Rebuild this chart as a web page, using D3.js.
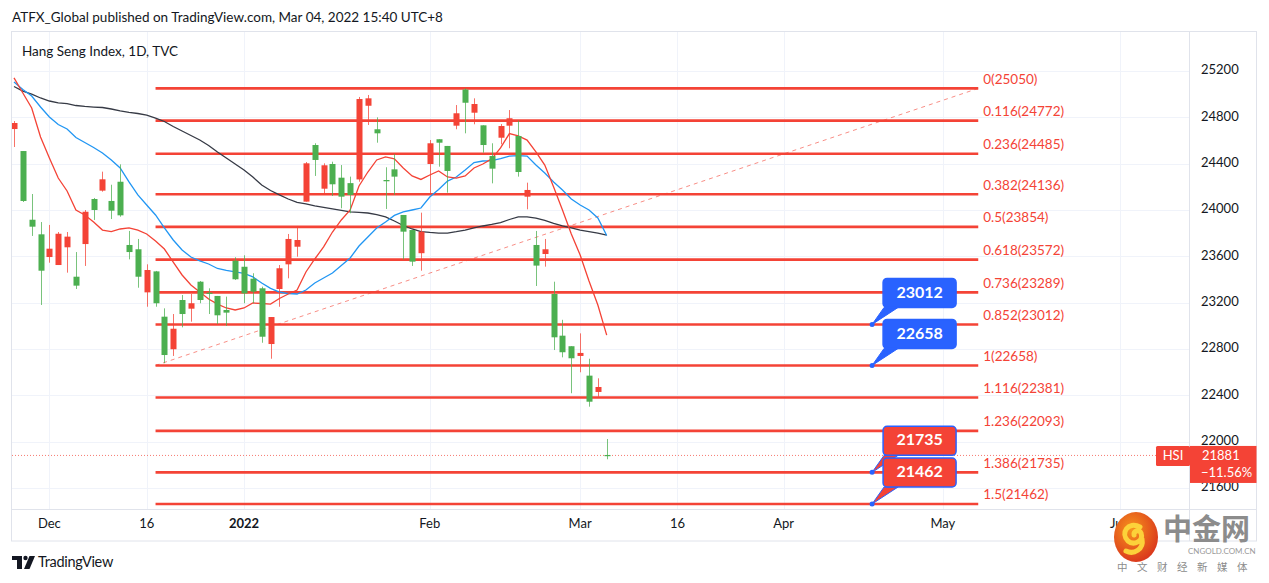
<!DOCTYPE html>
<html><head><meta charset="utf-8">
<script src="https://cdn.jsdelivr.net/npm/d3@7"></script>
<style>
html,body{margin:0;padding:0;background:#fff;}
svg{display:block;font-family:Lato,"Open Sans",sans-serif;}
</style></head>
<body><svg id="c" width="1269" height="583"></svg>
<script>
// ---- data ----
const dates = ["2021-11-25","2021-11-26","2021-11-29","2021-11-30","2021-12-01","2021-12-02","2021-12-03","2021-12-06","2021-12-07","2021-12-08","2021-12-09","2021-12-10","2021-12-13","2021-12-14","2021-12-15","2021-12-16","2021-12-17","2021-12-20","2021-12-21","2021-12-22","2021-12-23","2021-12-24","2021-12-28","2021-12-29","2021-12-30","2021-12-31","2022-01-03","2022-01-04","2022-01-05","2022-01-06","2022-01-07","2022-01-10","2022-01-11","2022-01-12","2022-01-13","2022-01-14","2022-01-17","2022-01-18","2022-01-19","2022-01-20","2022-01-21","2022-01-24","2022-01-25","2022-01-26","2022-01-27","2022-01-28","2022-01-31","2022-02-04","2022-02-07","2022-02-08","2022-02-09","2022-02-10","2022-02-11","2022-02-14","2022-02-15","2022-02-16","2022-02-17","2022-02-18","2022-02-21","2022-02-22","2022-02-23","2022-02-24","2022-02-25","2022-02-28","2022-03-01","2022-03-02","2022-03-03","2022-03-04"];
const opens  = [24699,24509,23916,23790,23594,23525,23678,23424,23706,24095,24167,24078,24244,23698,23661,23289,23470,23079,22798,23223,23148,23381,23286,23258,23137,23562,23510,23407,23324,22843,23318,23531,23683,24072,24561,24184,24397,24279,24232,24264,24900,24697,24259,24351,23957,23827,23627,24397,24611,24553,24728,25040,24840,24731,24466,24624,24728,24639,24115,23698,23620,23275,22915,22824,22740,22570,22429,21885];
const highs  = [24768,24509,24138,23896,23871,23810,23810,23637,24000,24104,24331,24218,24394,23819,23750,23531,23474,23151,23102,23266,23275,23387,23324,23258,23252,23592,23609,23454,23338,23076,23525,23793,23862,24414,24576,24403,24417,24388,24288,24976,24993,24800,24369,24483,23957,23827,23977,24604,24611,24553,24906,25050,24964,24731,24576,24742,24863,24771,24236,23819,23750,23381,23052,22824,22935,22716,22547,22023];
const lows   = [24544,24069,23776,23180,23545,23525,23459,23318,23517,23914,24158,23922,23942,23574,23329,23165,23165,22677,22740,22987,23036,23195,23102,23016,22999,23396,23195,23195,22854,22716,23165,23410,23597,24072,24294,24144,24121,24015,23972,24244,24734,24581,24009,24130,23574,23517,23476,24144,24374,24150,24697,24662,24740,24495,24230,24567,24533,24288,24006,23344,23511,22791,22728,22418,22599,22302,22388,21848];
const closes = [24751,24078,23856,23476,23666,23795,23770,23347,23985,24000,24265,23994,23954,23637,23424,23482,23195,22748,22975,23102,23195,23223,23277,23091,23114,23402,23280,23295,22906,23076,23497,23750,23741,24403,24432,24386,24222,24115,24130,24958,24964,24662,24248,24288,23813,23554,23813,24576,24581,24337,24835,24926,24915,24561,24357,24725,24792,24328,24173,23520,23661,22901,22772,22720,22766,22345,22472,21881];

const ma10 = [25140,25010,24881,24630,24449,24276,24164,24000,23957,23896,23827,23814,23836,23845,23827,23793,23732,23663,23551,23439,23353,23292,23232,23188,23154,23137,23154,23197,23193,23188,23236,23275,23309,23465,23577,23681,23810,23914,24000,24207,24328,24432,24458,24441,24363,24294,24264,24302,24337,24285,24276,24294,24363,24397,24441,24536,24660,24639,24604,24501,24388,24199,24000,23793,23611,23387,23180,22920];
const ma20 = [25105,25040,24984,24889,24803,24738,24699,24626,24583,24540,24492,24432,24363,24242,24130,24043,23957,23845,23741,23655,23594,23560,23534,23495,23478,23465,23452,23422,23370,23323,23292,23279,23275,23309,23370,23413,23456,23521,23586,23689,23767,23845,23896,23953,23983,24000,24017,24112,24177,24250,24285,24345,24410,24423,24427,24444,24466,24470,24466,24388,24319,24242,24173,24095,24043,24000,23931,23780];
const ma60 = [25066,25027,25001,24967,24941,24924,24919,24902,24894,24889,24885,24872,24855,24843,24833,24820,24794,24764,24721,24682,24643,24604,24557,24501,24449,24397,24345,24285,24216,24168,24130,24095,24065,24052,24035,24022,24009,23996,23983,23979,23974,23961,23940,23905,23866,23836,23814,23806,23801,23801,23813,23827,23845,23862,23875,23892,23918,23940,23940,23929,23910,23884,23862,23845,23827,23814,23801,23784];

const fibLevels = ["0","0.116","0.236","0.382","0.5","0.618","0.736","0.852","1","1.116","1.236","1.386","1.5"];
const fibValues = [25050,24772,24485,24136,23854,23572,23289,23012,22658,22381,22093,21735,21462];
const fibStartBar = 16, fibEndBar = 109;

const callouts = [
  {value:23012, label:"23012", kind:"blue"},
  {value:22658, label:"22658", kind:"blue"},
  {value:21735, label:"21735", kind:"red"},
  {value:21462, label:"21462", kind:"red"}
];
const calloutBar = 97;

const priceTicks = [25200,24800,24400,24000,23600,23200,22800,22400,22000,21600];
const timeTickLabels = ["Dec","16","2022","Feb","Mar","16","Apr","May","Jun"];
const timeTickBars   = [4,15,26,47,64,75,87,105,125];
const boldTimeTicks = ["2022"];

const lastPrice = 21881, lastChange = "\u221211.56%", symbol = "HSI";

// ---- layout ----
const svg = d3.select("#c");
const frame = {l:11.5, t:31.5, r:1256.5, b:541};
const plot = {l:12, r:1190, t:32, b:509};
const RED = "#f44336", GREEN = "#4caf50", BLUE = "#2962ff";

const x = d3.scaleLinear().domain([0, 67]).range([14, 606.7]);
const y = d3.scaleLinear().domain([21600, 25200]).range([488, 71]);

// header
svg.append("text").attr("x",12).attr("y",22).attr("font-size",13.5).attr("fill","#131722")
  .text("ATFX_Global published on TradingView.com, Mar 04, 2022 15:40 UTC+8");

// grid
const grid = svg.append("g");
grid.selectAll("line.h").data(priceTicks).join("line")
  .attr("x1",plot.l).attr("x2",plot.r).attr("y1",d=>Math.round(y(d))+0.5).attr("y2",d=>Math.round(y(d))+0.5)
  .attr("stroke","#f0f3fa").attr("stroke-width",1);
grid.selectAll("line.v").data(timeTickBars).join("line")
  .attr("x1",d=>Math.round(x(d))+0.5).attr("x2",d=>Math.round(x(d))+0.5).attr("y1",plot.t).attr("y2",plot.b)
  .attr("stroke","#f0f3fa").attr("stroke-width",1);

// frame
svg.append("rect").attr("x",frame.l).attr("y",frame.t).attr("width",frame.r-frame.l).attr("height",frame.b-frame.t)
  .attr("fill","none").attr("stroke","#e0e3eb");
svg.append("line").attr("x1",1189.5).attr("x2",1189.5).attr("y1",frame.t).attr("y2",frame.b).attr("stroke","#e0e3eb");
svg.append("line").attr("x1",frame.l).attr("x2",frame.r).attr("y1",509.5).attr("y2",509.5).attr("stroke","#e0e3eb");

svg.append("text").attr("x",22).attr("y",56).attr("font-size",13.5).attr("fill","#131722")
  .text("Hang Seng Index, 1D, TVC");

// clip
svg.append("clipPath").attr("id","pc").append("rect")
  .attr("x",plot.l).attr("y",plot.t).attr("width",plot.r-plot.l).attr("height",plot.b-plot.t);
const g = svg.append("g").attr("clip-path","url(#pc)");

// last price dotted line
g.append("line").attr("x1",plot.l).attr("x2",plot.r).attr("y1",y(lastPrice)).attr("y2",y(lastPrice))
  .attr("stroke",RED).attr("stroke-opacity",0.7).attr("stroke-dasharray","1,2").attr("stroke-width",1);

// fib lines
const fib = g.append("g");
fib.selectAll("line").data(fibValues).join("line")
  .attr("x1",x(fibStartBar)).attr("x2",x(fibEndBar))
  .attr("y1",d=>y(d)).attr("y2",d=>y(d))
  .attr("stroke",RED).attr("stroke-width",2.6);
fib.append("line").attr("x1",x(fibStartBar)).attr("y1",y(fibValues[8]))
  .attr("x2",x(fibEndBar)).attr("y2",y(fibValues[0]))
  .attr("stroke",RED).attr("stroke-opacity",0.6).attr("stroke-dasharray","4,4").attr("stroke-width",1);
fib.selectAll("text").data(fibValues).join("text")
  .attr("x",x(fibEndBar)+5).attr("y",d=>y(d)-8).attr("dominant-baseline","middle")
  .attr("font-size",13.5).attr("fill",RED)
  .text((d,i)=>fibLevels[i]+"("+d+")");

// moving averages
const line = d3.line().x((d,i)=>x(i)).y(d=>y(d));
g.append("path").datum(ma60).attr("d",line).attr("fill","none").attr("stroke","#363a45").attr("stroke-width",1.3);
g.append("path").datum(ma20).attr("d",line).attr("fill","none").attr("stroke","#2196f3").attr("stroke-width",1.3);
g.append("path").datum(ma10).attr("d",line).attr("fill","none").attr("stroke",RED).attr("stroke-width",1.3);

// candles
const idx = d3.range(dates.length);
const col = i => closes[i] >= opens[i] ? RED : GREEN;
const cg = g.append("g");
cg.selectAll("line").data(idx).join("line")
  .attr("x1",i=>Math.round(x(i))+0.5).attr("x2",i=>Math.round(x(i))+0.5)
  .attr("y1",i=>y(highs[i])).attr("y2",i=>y(lows[i]))
  .attr("stroke",col).attr("stroke-opacity",0.75).attr("stroke-width",1);
cg.selectAll("rect").data(idx).join("rect")
  .attr("x",i=>Math.round(x(i))-2.5).attr("width",6)
  .attr("y",i=>y(Math.max(opens[i],closes[i])))
  .attr("height",i=>Math.max(1.2, Math.abs(y(opens[i])-y(closes[i]))))
  .attr("fill",col);

// callouts
const cb = g.append("g");
callouts.forEach(c=>{
  const ax = x(calloutBar), ay = y(c.value);
  const fill = c.kind==="blue" ? BLUE : RED;
  const grp = cb.append("g");
  grp.append("path")
    .attr("d",`M${ax},${ay} L${ax+12},${ay-17} L${ax+26},${ay-17} Z`)
    .attr("fill",fill).attr("stroke",BLUE).attr("stroke-width",1);
  grp.append("rect").attr("x",ax+11).attr("y",ay-46).attr("width",73).attr("height",29).attr("rx",4)
    .attr("fill",fill).attr("stroke",BLUE).attr("stroke-width",1.5);
  grp.append("text").attr("x",ax+47.5).attr("y",ay-31).attr("text-anchor","middle").attr("dominant-baseline","middle")
    .attr("font-size",16).attr("font-weight","bold").attr("fill","#fff").text(c.label);
  grp.append("circle").attr("cx",ax).attr("cy",ay).attr("r",2.5).attr("fill",BLUE);
});

// price axis labels
svg.append("g").selectAll("text").data(priceTicks).join("text")
  .attr("x",1201).attr("y",d=>y(d)).attr("dominant-baseline","middle")
  .attr("font-size",13).attr("fill","#131722").text(d=>d);

// time axis labels
svg.append("g").selectAll("text").data(timeTickBars).join("text")
  .attr("x",d=>x(d)).attr("y",525).attr("dominant-baseline","middle").attr("text-anchor","middle")
  .attr("font-size",13).attr("fill","#131722")
  .attr("font-weight",(d,i)=>boldTimeTicks.includes(timeTickLabels[i])?"bold":"normal")
  .text((d,i)=>timeTickLabels[i]);

// last price tags
const ly = y(lastPrice);
svg.append("rect").attr("x",1156).attr("y",ly-9.5).attr("width",34).attr("height",20).attr("rx",1.5).attr("fill",RED);
svg.append("text").attr("x",1173).attr("y",ly+1).attr("text-anchor","middle").attr("dominant-baseline","middle")
  .attr("font-size",13).attr("fill","#fff").text(symbol);
svg.append("rect").attr("x",1190).attr("y",ly-9.5).attr("width",66.5).attr("height",37).attr("fill",RED);
svg.append("text").attr("x",1202).attr("y",ly+1.5).attr("dominant-baseline","middle")
  .attr("font-size",13).attr("fill","#fff").text(lastPrice);
svg.append("text").attr("x",1201).attr("y",ly+18).attr("dominant-baseline","middle")
  .attr("font-size",13).attr("fill","#fff").text(lastChange);

// TradingView logo
const tv = svg.append("g").attr("fill","#131722");
tv.append("rect").attr("x",12).attr("y",556).attr("width",10).attr("height",4);
tv.append("rect").attr("x",17).attr("y",556).attr("width",5).attr("height",13);
tv.append("circle").attr("cx",25.5).attr("cy",558).attr("r",2.2);
tv.append("path").attr("d","M29.5,556 L35,556 L29.5,569 L24,569 Z");
svg.append("text").attr("x",38).attr("y",567).attr("font-size",14.5).attr("fill","#131722")
  .attr("letter-spacing","-0.3").text("TradingView");

// 中金网 watermark
const defs = svg.append("defs");
const rg = defs.append("radialGradient").attr("id","lg").attr("cx","40%").attr("cy","35%").attr("r","70%");
rg.append("stop").attr("offset","0%").attr("stop-color","#f7941d");
rg.append("stop").attr("offset","100%").attr("stop-color","#d9341c");
svg.append("ellipse").attr("cx",1136).attr("cy",537).attr("rx",22).attr("ry",25).attr("fill","url(#lg)");
svg.append("path").attr("d","M1140,527 C1128,521 1120,533 1128,541 C1134,546 1144,541 1141,533 C1139,529 1133,531 1134,535 M1142,539 C1144,549 1134,555 1126,551")
  .attr("fill","none").attr("stroke","#fcd23a").attr("stroke-width",5).attr("stroke-linecap","round");
svg.append("text").attr("x",1163).attr("y",540).attr("font-family","'Noto Sans CJK SC',sans-serif")
  .attr("font-size",29).attr("font-weight","bold").attr("fill","#8c8c8c").text("中金网");
svg.append("text").attr("x",1188).attr("y",554).attr("font-size",8).attr("fill","#9a9a9a").text("CNGOLD.COM.CN");
svg.append("text").attr("x",1117).attr("y",571).attr("font-family","'Noto Sans CJK SC',sans-serif")
  .attr("font-size",10.5).attr("fill","#8c8c8c").attr("letter-spacing","9.5").text("中文财经新媒体");
</script></body></html>
